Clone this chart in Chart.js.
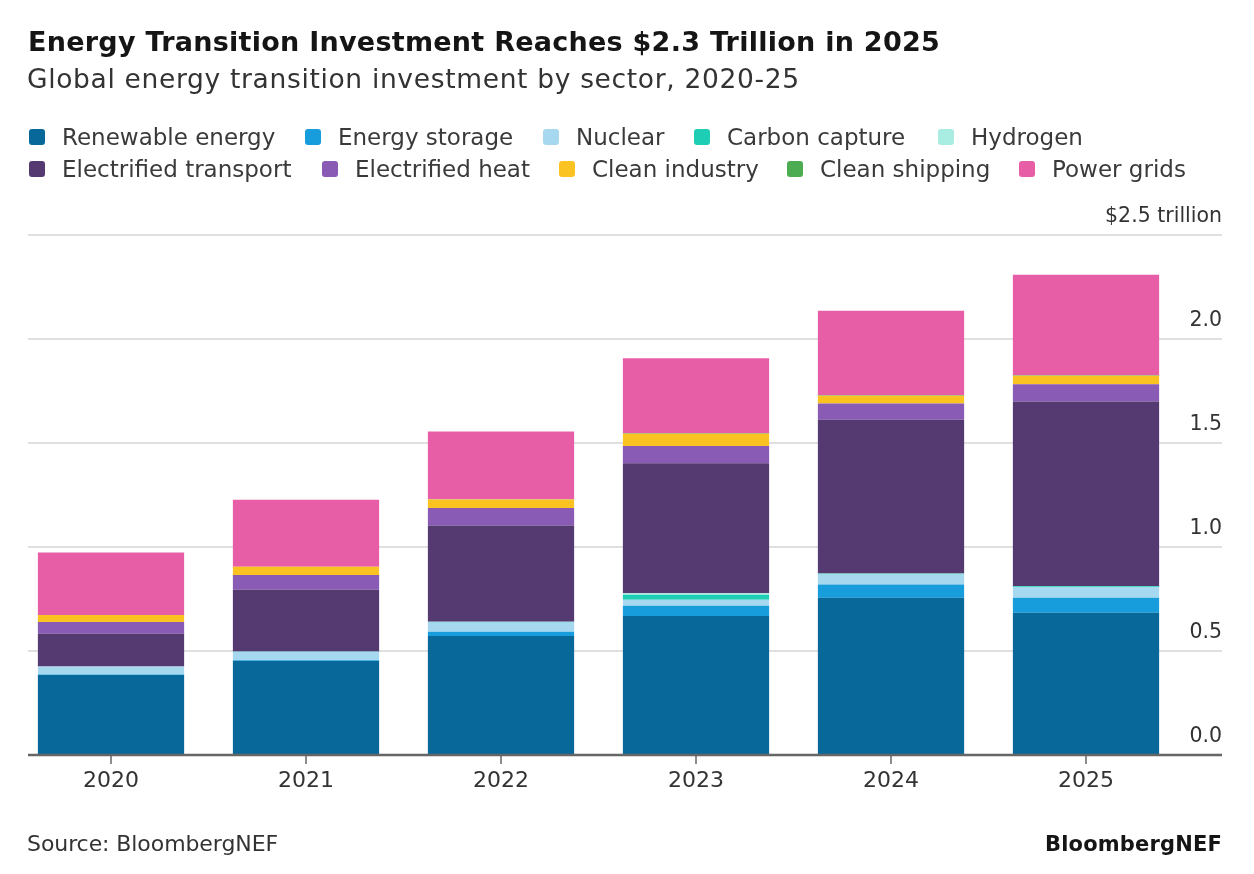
<!DOCTYPE html>
<html>
<head>
<meta charset="utf-8">
<script src="https://cdn.jsdelivr.net/npm/chart.js@4"></script>
<style>
  html, body { margin: 0; padding: 0; background: #fff; }
  body { width: 1254px; height: 874px; position: relative; overflow: hidden; font-family: "DejaVu Sans", sans-serif; }
  #chart { position: absolute; left: 0; top: 0; }
  .txt { position: absolute; white-space: nowrap; }
  .title { left: 28px; top: 26px; font-size: 27px; font-weight: bold; color: #151515; }
  .subtitle { left: 27px; top: 63px; font-size: 26.5px; color: #333; }
  .item { position: absolute; white-space: nowrap; display: flex; align-items: center; font-size: 23px; color: #3a3a3a; }
  .sw { width: 16px; height: 16px; border-radius: 3px; margin-right: 17px; flex: none; }
  .source { left: 27px; top: 831px; font-size: 22px; color: #333; }
  .brand { right: 32px; top: 832px; font-size: 21px; font-weight: bold; color: #151515; }
</style>
</head>
<body>
<canvas id="chart" width="1254" height="874"></canvas>
<div class="txt title" data-w="912">Energy Transition Investment Reaches $2.3 Trillion in 2025</div>
<div class="txt subtitle" data-w="773">Global energy transition investment by sector, 2020-25</div>
<div class="txt source" data-w="251">Source: BloombergNEF</div>
<div class="txt brand" data-w="177">BloombergNEF</div>
<script>
// Data ($ trillion)
const years = ["2020", "2021", "2022", "2023", "2024", "2025"];
const renewable = [0.385, 0.452, 0.572, 0.668, 0.756, 0.684];
const storage = [0.002, 0.003, 0.020, 0.050, 0.064, 0.072];
const nuclear = [0.038, 0.041, 0.045, 0.028, 0.048, 0.052];
const carbonCapture = [0.000, 0.001, 0.002, 0.024, 0.003, 0.003];
const hydrogen = [0.000, 0.001, 0.002, 0.008, 0.002, 0.002];
const transport = [0.158, 0.296, 0.462, 0.625, 0.739, 0.887];
const heat = [0.056, 0.071, 0.085, 0.083, 0.078, 0.083];
const industry = [0.034, 0.040, 0.040, 0.059, 0.037, 0.040];
const shipping = [0.000, 0.000, 0.001, 0.002, 0.003, 0.003];
const grids = [0.300, 0.322, 0.326, 0.360, 0.406, 0.483];
const yTicks = [0, 0.5, 1.0, 1.5, 2.0, 2.5];

const sectors = [
    { label: "Renewable energy", data: renewable, color: "#08689a" },
    { label: "Energy storage", data: storage, color: "#189ddc" },
    { label: "Nuclear", data: nuclear, color: "#a6d8f0" },
    { label: "Carbon capture", data: carbonCapture, color: "#1dcdb4" },
    { label: "Hydrogen", data: hydrogen, color: "#a9ece2" },
    { label: "Electrified transport", data: transport, color: "#553a72" },
    { label: "Electrified heat", data: heat, color: "#8a5bb4" },
    { label: "Clean industry", data: industry, color: "#fbc321" },
    { label: "Clean shipping", data: shipping, color: "#4dab52" },
    { label: "Power grids", data: grids, color: "#e75ea7" }
];

// --- HTML legend, two rows like the original (swatch left, row centre) ---
const legendPos = [
    [29, 137], [305, 137], [543, 137], [694, 137], [938, 137],
    [29, 169], [322, 169], [559, 169], [787, 169], [1019, 169]
];
sectors.forEach((s, i) => {
    const div = document.createElement("div");
    div.className = "item";
    div.style.left = legendPos[i][0] + "px";
    div.style.top = (legendPos[i][1] - 14) + "px";
    div.style.height = "28px";
    div.innerHTML = `<span class="sw" style="background:${s.color}"></span>${s.label}`;
    document.body.appendChild(div);
});

// stretch/squeeze header and footer text to the widths seen in the original
document.querySelectorAll("[data-w]").forEach(el => {
    const target = +el.dataset.w;
    const w = el.getBoundingClientRect().width;
    const n = el.textContent.length;
    el.style.letterSpacing = ((target - w) / n).toFixed(2) + "px";
});

// grid, baseline, ticks and right-hand labels drawn from the scales
const axisPlugin = {
    id: "bnefAxis",
    beforeDatasetsDraw(chart) {
        const ctx = chart.ctx;
        const y = chart.scales.y;
        ctx.save();
        ctx.strokeStyle = "#e0e0e0";
        ctx.lineWidth = 2;
        yTicks.forEach(v => {
            if (v === 0) return;
            const py = y.getPixelForValue(v);
            ctx.beginPath();
            ctx.moveTo(28, py);
            ctx.lineTo(1222, py);
            ctx.stroke();
        });
        ctx.restore();
    },
    afterDatasetsDraw(chart) {
        const ctx = chart.ctx;
        const x = chart.scales.x;
        const y = chart.scales.y;
        const base = y.getPixelForValue(0);
        ctx.save();
        ctx.strokeStyle = "#666";
        ctx.lineWidth = 2.5;
        ctx.beginPath();
        ctx.moveTo(28, base);
        ctx.lineTo(1222, base);
        ctx.stroke();
        ctx.lineWidth = 1.5;
        ctx.fillStyle = "#333";
        ctx.font = "22px 'DejaVu Sans', sans-serif";
        ctx.textAlign = "center";
        ctx.textBaseline = "middle";
        years.forEach((yr, i) => {
            const px = x.getPixelForValue(i);
            ctx.beginPath();
            ctx.moveTo(px, base);
            ctx.lineTo(px, base + 9);
            ctx.stroke();
            ctx.fillText(yr, px, base + 26);
        });
        ctx.font = "20.5px 'DejaVu Sans', sans-serif";
        ctx.textAlign = "right";
        ctx.textBaseline = "alphabetic";
        yTicks.forEach(v => {
            const py = y.getPixelForValue(v);
            const txt = v === 2.5 ? "$2.5 trillion" : v.toFixed(1);
            ctx.fillText(txt, 1222, py - 13);
        });
        ctx.restore();
    }
};

new Chart(document.getElementById("chart"), {
    type: "bar",
    data: {
        labels: years,
        datasets: sectors.map(s => ({
            label: s.label,
            data: s.data,
            backgroundColor: s.color,
            borderWidth: 0,
            categoryPercentage: 1.0,
            barPercentage: 0.75
        }))
    },
    options: {
        responsive: false,
        animation: false,
        layout: { padding: { left: 13.5, right: 70.5, top: 235, bottom: 119 } },
        plugins: { legend: { display: false }, tooltip: { enabled: false } },
        scales: {
            x: { stacked: true, display: false },
            y: { stacked: true, display: false, min: 0, max: 2.5 }
        }
    },
    plugins: [axisPlugin]
});
</script>
</body>
</html>
